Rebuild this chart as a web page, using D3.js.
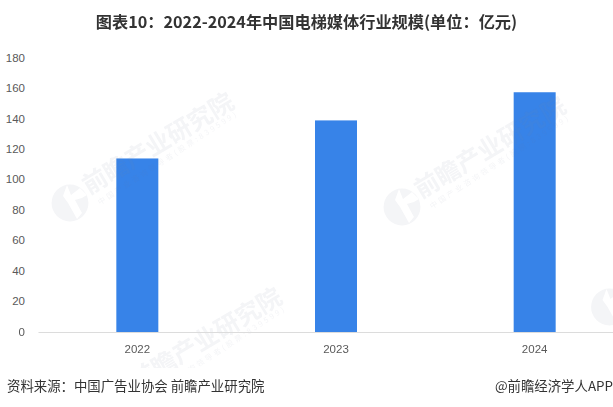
<!DOCTYPE html>
<html><head><meta charset="utf-8">
<script src="https://cdnjs.cloudflare.com/ajax/libs/d3/7.8.5/d3.min.js"></script>
<style>html,body{margin:0;background:#fff}svg{display:block}</style></head>
<body><div id="c"></div>
<script>
const categories = ["2022","2023","2024"];
const values = [114,139,157.5];
const yTicks = [0,20,40,60,80,100,120,140,160,180];
const titleText = "图表10：2022-2024年中国电梯媒体行业规模(单位：亿元)";
const sourceText = "资料来源：中国广告业协会 前瞻产业研究院";
const creditText = "@前瞻经济学人APP";
const markName = "前瞻产业研究院";
const markSub = "中国产业咨询领导者(股票:839599)";
const markAnchors = [[70,203],[402,207],[118,398]];
const markLogoOnly = [[609.5,307]];

const W=613,H=407;
const cjk='"Noto Sans CJK SC","Noto Sans",sans-serif';
const svg=d3.select("#c").append("svg").attr("width",W).attr("height",H);
svg.append("rect").attr("width",W).attr("height",H).attr("fill","#fff");
svg.append("clipPath").attr("id","wmclip").append("rect").attr("width",W).attr("height",368);

const x=d3.scaleBand().domain(categories).range([38,634]);
const y=d3.scaleLinear().domain([0,180]).range([332,58]);

// bars
svg.append("g").selectAll("rect").data(categories).join("rect")
  .attr("x",d=>x(d)+x.bandwidth()/2-21).attr("width",42)
  .attr("y",(d,i)=>y(values[i])).attr("height",(d,i)=>y(0)-y(values[i]))
  .attr("fill","#3783e8");

// watermarks
const wm=svg.append("g").attr("clip-path","url(#wmclip)").attr("opacity",0.085).attr("fill","#78809c");
function logo(a,b){
  const g=wm.append("g").attr("transform",`translate(${a},${b})`);
  g.append("path").attr("fill-rule","evenodd").attr("d",
    d3.arc()({innerRadius:0,outerRadius:18.4,startAngle:0,endAngle:2*Math.PI})+
    d3.line()([[-3,-18],[1,-8],[10,-15],[17,-8],[12,-5],[5,-3],[12,10],[7,16],[-2,0],[-7,-7]])+"Z");
  return g;
}
markAnchors.forEach(([a,b])=>{
  const g=logo(a,b);
  g.append("text").attr("transform","translate(19,-8) rotate(-31)")
    .attr("font-family",cjk).attr("font-size",24.5).attr("font-weight",700).text(markName);
  g.append("text").attr("transform","translate(30,2) rotate(-33)")
    .attr("font-family",cjk).attr("font-size",7.5).attr("letter-spacing",2.55).text(markSub);
});
markLogoOnly.forEach(([a,b])=>logo(a,b));

// axes
const ax=svg.append("g").attr("transform","translate(0,332)").call(d3.axisBottom(x).tickSize(0).tickPadding(13));
ax.select(".domain").attr("stroke","#dcdcdc").attr("stroke-width",1.2);
ax.selectAll("text").attr("font-family","'Liberation Sans',Arial,sans-serif").attr("font-size",11.5).attr("fill","#595959");
const ay=svg.append("g").attr("transform","translate(25,-0.5)").call(d3.axisLeft(y).tickValues(yTicks).tickSize(0).tickPadding(0));
ay.select(".domain").remove();
ay.selectAll("text").attr("font-family","'Liberation Sans',Arial,sans-serif").attr("font-size",11.5).attr("fill","#595959");

svg.append("text").attr("x",306.5).attr("y",28).attr("text-anchor","middle")
  .attr("font-family",cjk).attr("font-size",16.2).attr("font-weight",700).attr("fill","#333").text(titleText);
svg.append("text").attr("x",7).attr("y",391).attr("font-family",cjk).attr("font-size",13.4).attr("fill","#333").text(sourceText);
svg.append("text").attr("x",613).attr("y",391).attr("text-anchor","end").attr("font-family",cjk).attr("font-size",13.4).attr("fill","#333").text(creditText);
</script></body></html>
